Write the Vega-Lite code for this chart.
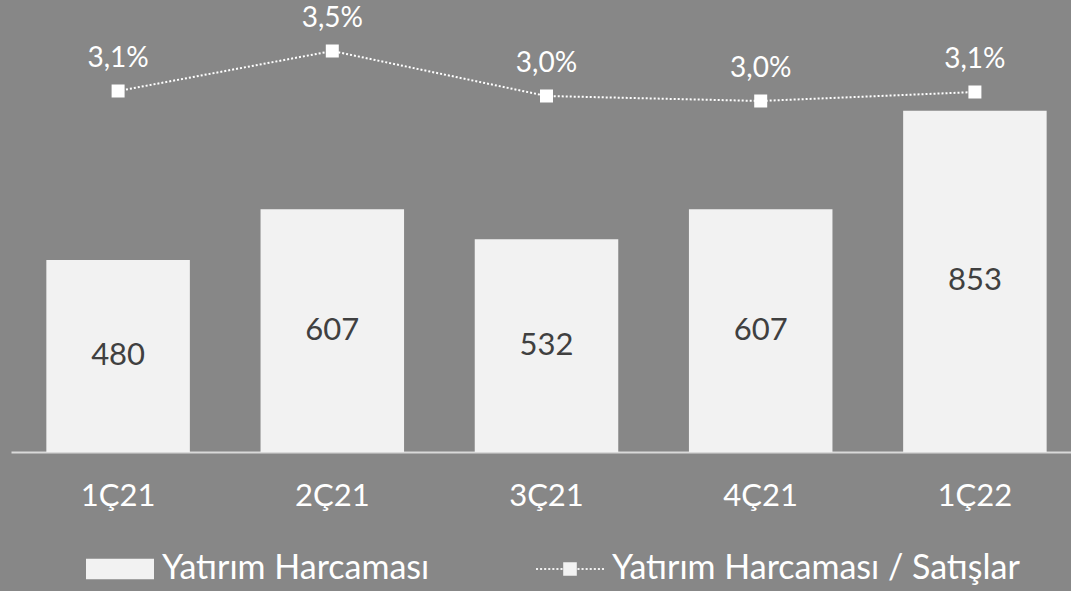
{
  "$schema": "https://vega.github.io/schema/vega-lite/v6.json",
  "background": "#878787",
  "padding": {"left": 11, "top": 0, "right": 0, "bottom": 30},
  "width": 1071,
  "height": 452,
  "config": {
    "view": {"stroke": null},
    "font": "Lato",
    "locale": {"number": {"decimal": ",", "thousands": ".", "grouping": [3], "currency": ["", " TL"]}}
  },
  "data": {"values": [
    {"q": "1Ç21", "yatirim": 480, "oran": 0.0309, "seri": "Yatırım Harcaması / Satışlar"},
    {"q": "2Ç21", "yatirim": 607, "oran": 0.0349, "seri": "Yatırım Harcaması / Satışlar"},
    {"q": "3Ç21", "yatirim": 532, "oran": 0.0304, "seri": "Yatırım Harcaması / Satışlar"},
    {"q": "4Ç21", "yatirim": 607, "oran": 0.0299, "seri": "Yatırım Harcaması / Satışlar"},
    {"q": "1Ç22", "yatirim": 853, "oran": 0.0308, "seri": "Yatırım Harcaması / Satışlar"}
  ]},
  "encoding": {
    "x": {
      "field": "q", "type": "nominal", "sort": null,
      "scale": {"paddingInner": 0.33, "paddingOuter": 0.165},
      "axis": {"title": null, "labelAngle": 0, "labelFontSize": 31, "labelColor": "#ffffff", "labelFont": "Lato", "ticks": false, "domainColor": "#d9d9d9", "domainWidth": 2, "labelPadding": 29, "grid": false}
    }
  },
  "layer": [
    {
      "mark": {"type": "bar", "color": "#f2f2f2"},
      "encoding": {"y": {"field": "yatirim", "type": "quantitative", "scale": {"domain": [0, 1130], "nice": false}, "axis": null}}
    },
    {
      "mark": {"type": "text", "fontSize": 31, "color": "#404040", "baseline": "middle", "font": "Lato"},
      "encoding": {
        "y": {"field": "yatirim", "type": "quantitative", "scale": {"domain": [0, 2260], "nice": false}, "axis": null},
        "text": {"field": "yatirim", "type": "quantitative"}
      }
    },
    {
      "mark": {"type": "line", "color": "#ffffff", "strokeWidth": 2, "strokeDash": [2, 2]},
      "encoding": {"y": {"field": "oran", "type": "quantitative", "scale": {"domain": [-0.0052, 0.04], "nice": false, "zero": false}, "axis": null}}
    },
    {
      "mark": {"type": "point", "filled": true, "size": 169, "shape": "square", "color": "#ffffff", "opacity": 1},
      "encoding": {
        "y": {"field": "oran", "type": "quantitative", "scale": {"domain": [-0.0052, 0.04], "nice": false, "zero": false}, "axis": null}
      }
    },
    {
      "mark": {"type": "point", "filled": true, "color": "#f2f2f2", "opacity": 0},
      "encoding": {
        "y": {"field": "oran", "type": "quantitative", "scale": {"domain": [-0.0052, 0.04], "nice": false, "zero": false}, "axis": null},
        "shape": {
          "field": "seri", "type": "nominal",
          "scale": {"domain": ["Yatırım Harcaması", "Yatırım Harcaması / Satışlar"], "range": [
            "M-1,-0.3H1V0.3H-1Z",
            "M-1,-0.03h0.06v0.06h-0.06Z M-0.88,-0.03h0.06v0.06h-0.06Z M-0.76,-0.03h0.06v0.06h-0.06Z M-0.64,-0.03h0.06v0.06h-0.06Z M-0.52,-0.03h0.06v0.06h-0.06Z M-0.4,-0.03h0.06v0.06h-0.06Z M-0.28,-0.03h0.06v0.06h-0.06Z M-0.2,-0.2H0.2V0.2H-0.2Z M0.22,-0.03h0.06v0.06h-0.06Z M0.34,-0.03h0.06v0.06h-0.06Z M0.46,-0.03h0.06v0.06h-0.06Z M0.58,-0.03h0.06v0.06h-0.06Z M0.7,-0.03h0.06v0.06h-0.06Z M0.82,-0.03h0.06v0.06h-0.06Z M0.94,-0.03h0.06v0.06h-0.06Z"
          ]},
          "legend": {
            "title": null, "orient": "none", "legendX": 75, "legendY": 535, "direction": "horizontal",
            "labelFontSize": 34, "labelColor": "#ffffff", "labelFont": "Lato", "labelLimit": 0,
            "symbolSize": 4624, "symbolOpacity": 1, "symbolFillColor": "#f2f2f2",
            "symbolStrokeWidth": 0,
            "labelOffset": 8, "columnPadding": 106
          }
        }
      }
    },
    {
      "mark": {"type": "text", "fontSize": 28, "color": "#ffffff", "dy": -32, "font": "Lato"},
      "encoding": {
        "y": {"field": "oran", "type": "quantitative", "scale": {"domain": [-0.0052, 0.04], "nice": false, "zero": false}, "axis": null},
        "text": {"field": "oran", "type": "quantitative", "format": ".1%"}
      }
    }
  ],
  "resolve": {"scale": {"y": "independent"}}
}
